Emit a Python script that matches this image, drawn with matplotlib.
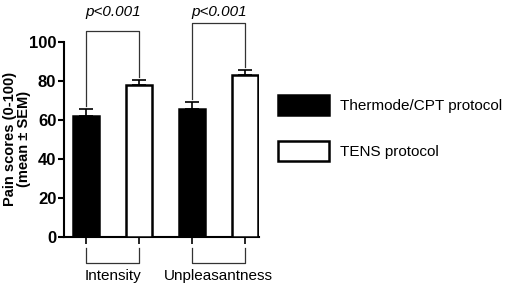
import matplotlib.pyplot as plt
import numpy as np

# data
groups = ['Intensity', 'Unpleasantness']
thermode = [62, 65.5]
thermode_sem = [3.8, 3.8]
tens = [78, 83]
tens_sem = [2.5, 2.8]
p_labels = ['p<0.001', 'p<0.001']

plt.rcParams['font.family'] = ['Liberation Sans', 'DejaVu Sans']

fig = plt.figure(figsize=(5.1, 2.89), dpi=100)
ax = fig.add_axes([64/510, 1-237/289, (259-64)/510, (237-42)/289])

x = np.arange(len(groups))
off = 0.25
w = 0.245
ax.bar(x - off, thermode, w, color='black', edgecolor='black', linewidth=1.8,
       label='Thermode/CPT protocol', zorder=3)
ax.bar(x + off, tens, w, color='white', edgecolor='black', linewidth=1.8,
       label='TENS protocol', zorder=3)
ax.errorbar(x - off, thermode, yerr=[np.zeros(2), thermode_sem], fmt='none',
            ecolor='black', elinewidth=1.2, capsize=5, capthick=1.2, zorder=2)
ax.errorbar(x + off, tens, yerr=[np.zeros(2), tens_sem], fmt='none',
            ecolor='black', elinewidth=1.2, capsize=5, capthick=1.2, zorder=2)

ax.set_xlim(-0.46, 1.38)
ax.set_ylim(0, 100)
ax.set_yticks([0, 20, 40, 60, 80, 100])
ax.tick_params(axis='y', labelsize=12, width=1.5, length=4, pad=1.5)
for t in ax.get_yticklabels():
    t.set_fontweight('bold')
ax.set_xticks(np.concatenate([x - off, x + off]))
ax.set_xticklabels([])
ax.tick_params(axis='x', width=1.2, length=5)
ax.spines['top'].set_visible(False)
ax.spines['right'].set_visible(False)
ax.spines['left'].set_linewidth(1.5)
ax.spines['bottom'].set_linewidth(1.5)
fig.text(17/510, 1-139/289, 'Pain scores (0-100)\n(mean ± SEM)', fontsize=10.5,
         fontweight='bold', rotation=90, ha='center', va='center',
         multialignment='center', linespacing=1.05)

# significance brackets above
tops = [105.6, 109.7]
for i in range(len(groups)):
    l = thermode[i] + thermode_sem[i] + 1.5
    r = tens[i] + tens_sem[i] + 1.5
    ax.plot([x[i] - off, x[i] - off, x[i] + off, x[i] + off], [l, tops[i], tops[i], r],
            color='#333333', lw=0.9, clip_on=False)
    ax.text(x[i], 112, p_labels[i], ha='center', va='bottom', fontsize=11,
            style='italic')

# group brackets below
for i, g in enumerate(groups):
    ax.plot([x[i] - off, x[i] - off, x[i] + off, x[i] + off], [-5.6, -13.3, -13.3, -5.6],
            color='#333333', lw=0.9, clip_on=False)
    ax.text(x[i], -16.5, g, ha='center', va='top', fontsize=11)

ax.legend(loc='upper left', bbox_to_anchor=(278/510, 1-95/289),
          bbox_transform=fig.transFigure, frameon=False, fontsize=11,
          handlelength=3.35, handleheight=1.65, labelspacing=1.7,
          handletextpad=0.7, borderpad=0, borderaxespad=0)

fig.savefig('out.png', dpi=100)
